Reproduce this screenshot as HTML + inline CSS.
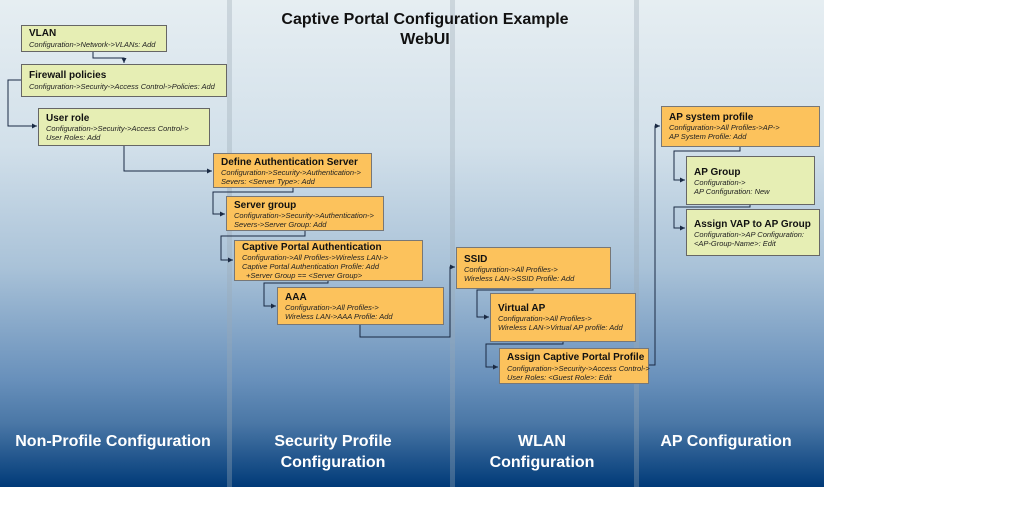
<!DOCTYPE html>
<html><head><meta charset="utf-8"><style>
html,body{margin:0;padding:0;background:#fff;width:1024px;height:512px;overflow:hidden}
svg{display:block}
text{font-family:"Liberation Sans",Arial,sans-serif}
.t{font-weight:bold;font-size:10px;fill:#111}
.s{font-style:italic;font-size:7.5px;fill:#222}
.g{fill:#e6eeb4;stroke:#666;stroke-width:1}
.o{fill:#fcc25c;stroke:#777;stroke-width:1}
.l{fill:none;stroke:#1a2a44;stroke-width:1}
.b{font-weight:bold;font-size:16px;fill:#fff}
</style></head><body>
<svg width="1024" height="512" viewBox="0 0 1024 512">
<defs>
<linearGradient id="bg" x1="0" y1="0" x2="0" y2="1">
<stop offset="0" stop-color="#e6eef2"/>
<stop offset="0.3" stop-color="#d2e0ea"/>
<stop offset="0.55" stop-color="#a9c2d8"/>
<stop offset="0.78" stop-color="#6890bb"/>
<stop offset="0.87" stop-color="#4a77a6"/>
<stop offset="1" stop-color="#003a78"/>
</linearGradient>
<marker id="a" markerWidth="6" markerHeight="6" refX="5" refY="3" orient="auto" markerUnits="userSpaceOnUse"><path d="M0,0.5 L5,3 L0,5.5z" fill="#1a2a44"/></marker>
</defs>
<rect x="0" y="0" width="824" height="487" fill="url(#bg)"/>
<rect x="227" y="0" width="5" height="487" fill="#9aa8b4" opacity="0.35"/>
<rect x="450" y="0" width="5" height="487" fill="#9aa8b4" opacity="0.35"/>
<rect x="634" y="0" width="5" height="487" fill="#9aa8b4" opacity="0.35"/>

<text x="425" y="24" text-anchor="middle" font-weight="bold" font-size="16" fill="#111">Captive Portal Configuration Example</text>
<text x="425" y="44" text-anchor="middle" font-weight="bold" font-size="16" fill="#111">WebUI</text>

<!-- connectors -->
<path class="l" d="M93,51 V58 H124 V63" marker-end="url(#a)"/>
<path class="l" d="M21,80 H8 V126 H37" marker-end="url(#a)"/>
<path class="l" d="M124,145 V171 H212" marker-end="url(#a)"/>
<path class="l" d="M293,187 V192 H213 V214 H225" marker-end="url(#a)"/>
<path class="l" d="M305,230 V236 H221 V260 H233" marker-end="url(#a)"/>
<path class="l" d="M328,280 V283 H264 V306 H276" marker-end="url(#a)"/>
<path class="l" d="M360,324 V337 H450 V267 H455" marker-end="url(#a)"/>
<path class="l" d="M533,288 V290 H477 V317 H489" marker-end="url(#a)"/>
<path class="l" d="M563,341 V344 H486 V367 H498" marker-end="url(#a)"/>
<path class="l" d="M648,365 H655 V126 H660" marker-end="url(#a)"/>
<path class="l" d="M740,146 V151 H674 V180 H685" marker-end="url(#a)"/>
<path class="l" d="M750,204 V207 H674 V228 H685" marker-end="url(#a)"/>

<!-- boxes -->
<rect class="g" x="21.5" y="25.5" width="145" height="26"/>
<text class="t" x="29" y="36">VLAN</text>
<text class="s" x="29" y="47">Configuration-&gt;Network-&gt;VLANs: Add</text>

<rect class="g" x="21.5" y="64.5" width="205" height="32"/>
<text class="t" x="29" y="78">Firewall policies</text>
<text class="s" x="29" y="89">Configuration-&gt;Security-&gt;Access Control-&gt;Policies: Add</text>

<rect class="g" x="38.5" y="108.5" width="171" height="37"/>
<text class="t" x="46" y="121">User role</text>
<text class="s" x="46" y="131">Configuration-&gt;Security-&gt;Access Control-&gt;</text>
<text class="s" x="46" y="140">User Roles: Add</text>

<rect class="o" x="213.5" y="153.5" width="158" height="34"/>
<text class="t" x="221" y="165">Define Authentication Server</text>
<text class="s" x="221" y="175">Configuration-&gt;Security-&gt;Authentication-&gt;</text>
<text class="s" x="221" y="184">Severs: &lt;Server Type&gt;: Add</text>

<rect class="o" x="226.5" y="196.5" width="157" height="34"/>
<text class="t" x="234" y="208">Server group</text>
<text class="s" x="234" y="218">Configuration-&gt;Security-&gt;Authentication-&gt;</text>
<text class="s" x="234" y="227">Severs-&gt;Server Group: Add</text>

<rect class="o" x="234.5" y="240.5" width="188" height="40"/>
<text class="t" x="242" y="250">Captive Portal Authentication</text>
<text class="s" x="242" y="260">Configuration-&gt;All Profiles-&gt;Wireless LAN-&gt;</text>
<text class="s" x="242" y="269">Captive Portal Authentication Profile: Add</text>
<text class="s" x="246" y="278">+Server Group == &lt;Server Group&gt;</text>

<rect class="o" x="277.5" y="287.5" width="166" height="37"/>
<text class="t" x="285" y="300">AAA</text>
<text class="s" x="285" y="310">Configuration-&gt;All Profiles-&gt;</text>
<text class="s" x="285" y="319">Wireless LAN-&gt;AAA Profile: Add</text>

<rect class="o" x="456.5" y="247.5" width="154" height="41"/>
<text class="t" x="464" y="262">SSID</text>
<text class="s" x="464" y="272">Configuration-&gt;All Profiles-&gt;</text>
<text class="s" x="464" y="281">Wireless LAN-&gt;SSID Profile: Add</text>

<rect class="o" x="490.5" y="293.5" width="145" height="48"/>
<text class="t" x="498" y="311">Virtual AP</text>
<text class="s" x="498" y="321">Configuration-&gt;All Profiles-&gt;</text>
<text class="s" x="498" y="330">Wireless LAN-&gt;Virtual AP profile: Add</text>

<rect class="o" x="499.5" y="348.5" width="149" height="35"/>
<text class="t" x="507" y="360">Assign Captive Portal Profile</text>
<text class="s" x="507" y="371">Configuration-&gt;Security-&gt;Access Control-&gt;</text>
<text class="s" x="507" y="380">User Roles: &lt;Guest Role&gt;: Edit</text>

<rect class="o" x="661.5" y="106.5" width="158" height="40"/>
<text class="t" x="669" y="120">AP system profile</text>
<text class="s" x="669" y="130">Configuration-&gt;All Profiles-&gt;AP-&gt;</text>
<text class="s" x="669" y="139">AP System Profile: Add</text>

<rect class="g" x="686.5" y="156.5" width="128" height="48"/>
<text class="t" x="694" y="175">AP Group</text>
<text class="s" x="694" y="185">Configuration-&gt;</text>
<text class="s" x="694" y="194">AP Configuration: New</text>

<rect class="g" x="686.5" y="209.5" width="133" height="46"/>
<text class="t" x="694" y="227">Assign VAP to AP Group</text>
<text class="s" x="694" y="237">Configuration-&gt;AP Configuration:</text>
<text class="s" x="694" y="246">&lt;AP-Group-Name&gt;: Edit</text>

<!-- bottom labels -->
<text class="b" x="113" y="446" text-anchor="middle">Non-Profile Configuration</text>
<text class="b" x="333" y="446" text-anchor="middle">Security Profile</text>
<text class="b" x="333" y="467" text-anchor="middle">Configuration</text>
<text class="b" x="542" y="446" text-anchor="middle">WLAN</text>
<text class="b" x="542" y="467" text-anchor="middle">Configuration</text>
<text class="b" x="726" y="446" text-anchor="middle">AP Configuration</text>
</svg>
</body></html>
